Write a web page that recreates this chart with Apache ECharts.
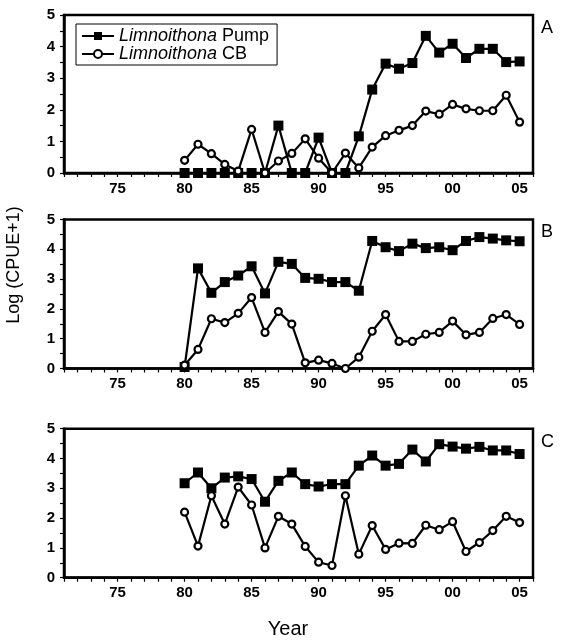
<!DOCTYPE html>
<html>
<head>
<meta charset="utf-8">
<script src="https://cdn.jsdelivr.net/npm/echarts@6/dist/echarts.min.js"></script>
<style>
  html, body { margin: 0; padding: 0; background: #fff; }
  #chart { width: 561px; height: 641px; }
</style>
</head>
<body>
<div id="chart"></div>
<script>
// Survey years shared by all three panels
const years = [1980, 1981, 1982, 1983, 1984, 1985, 1986, 1987, 1988, 1989, 1990, 1991, 1992,
               1993, 1994, 1995, 1996, 1997, 1998, 1999, 2000, 2001, 2002, 2003, 2004, 2005];

// Log (CPUE+1) per panel; "pump" = Limnoithona Pump, "cb" = Limnoithona CB
const pumpA = [0, 0, 0, 0, 0, 0, 0, 1.50, 0, 0, 1.12, 0, 0,
               1.16, 2.64, 3.46, 3.30, 3.48, 4.34, 3.81, 4.09, 3.64, 3.93, 3.93, 3.51, 3.53];
const cbA   = [0.40, 0.91, 0.61, 0.27, 0.06, 1.38, 0, 0.38, 0.62, 1.08, 0.47, 0, 0.63,
               0.16, 0.82, 1.18, 1.35, 1.50, 1.96, 1.86, 2.17, 2.03, 1.97, 1.97, 2.46, 1.61];

const pumpB = [0.05, 3.36, 2.54, 2.90, 3.12, 3.43, 2.52, 3.58, 3.51, 3.04, 3.01, 2.90, 2.90,
               2.61, 4.28, 4.07, 3.94, 4.19, 4.04, 4.07, 3.97, 4.28, 4.41, 4.36, 4.30, 4.27];
const cbB   = [0.11, 0.64, 1.67, 1.54, 1.85, 2.38, 1.21, 1.91, 1.49, 0.19, 0.28, 0.17, 0.0,
               0.38, 1.25, 1.81, 0.91, 0.91, 1.15, 1.21, 1.59, 1.13, 1.21, 1.68, 1.81, 1.48];

const pumpC = [3.17, 3.53, 3.00, 3.36, 3.40, 3.31, 2.55, 3.25, 3.53, 3.14, 3.06, 3.14, 3.14,
               3.76, 4.10, 3.76, 3.82, 4.30, 3.90, 4.48, 4.40, 4.33, 4.39, 4.27, 4.27, 4.15];
const cbC   = [2.20, 1.06, 2.75, 1.80, 3.04, 2.44, 1.00, 2.06, 1.80, 1.05, 0.52, 0.41, 2.75,
               0.79, 1.75, 0.95, 1.16, 1.15, 1.76, 1.61, 1.88, 0.88, 1.18, 1.58, 2.06, 1.85];

const panelLabels = ['A', 'B', 'C'];
const seriesNames = ['Limnoithona Pump', 'Limnoithona CB'];
const yAxisTitle = 'Log (CPUE+1)';
const xAxisTitle = 'Year';

const panels = [
  { pump: pumpA, cb: cbA },
  { pump: pumpB, cb: cbB },
  { pump: pumpC, cb: cbC }
];

// Plot-area placement of each panel
const grids = [
  { left: 64, top: 15, width: 469, height: 158 },
  { left: 64, top: 219.5, width: 469, height: 149 },
  { left: 64, top: 428.7, width: 469, height: 149 }
];

const FONT = 'Liberation Sans, Arial, sans-serif';

function pairs(vals) {
  return years.map((y, i) => [y, vals[i]]);
}

const option = {
  animation: false,
  backgroundColor: '#fff',
  textStyle: { fontFamily: FONT },
  grid: grids.map(g => Object.assign({
    show: true, borderColor: '#000', borderWidth: 2.5, backgroundColor: 'transparent'
  }, g)),
  xAxis: grids.map((g, i) => ({
    type: 'value', gridIndex: i, min: 1971, max: 2006, interval: 1,
    axisLine: { lineStyle: { color: '#000', width: 2.5 } },
    axisTick: { inside: false, length: 4, lineStyle: { color: '#000', width: 1.2 } },
    splitLine: { show: false },
    axisLabel: {
      color: '#000', fontWeight: 'bold', fontSize: 15, fontFamily: FONT, margin: 8,
      formatter: v => (v % 5 === 0 ? String(v % 100).padStart(2, '0') : '')
    }
  })),
  yAxis: grids.map((g, i) => ({
    type: 'value', gridIndex: i, min: 0, max: 5, interval: 0.5,
    axisLine: { show: true, lineStyle: { color: '#000', width: 2.5 } },
    axisTick: { show: true, inside: false, length: 4, lineStyle: { color: '#000', width: 1.2 } },
    splitLine: { show: false },
    axisLabel: {
      color: '#000', fontWeight: 'bold', fontSize: 15, fontFamily: FONT, margin: 9,
      formatter: v => (Math.abs(v - Math.round(v)) < 1e-6 ? String(Math.round(v)) : '')
    }
  })),
  legend: {
    data: seriesNames,
    orient: 'vertical',
    left: 76, top: 24,
    padding: [3, 8, 2, 5],
    itemGap: 0,
    itemWidth: 32, itemHeight: 10,
    borderColor: '#000', borderWidth: 1,
    backgroundColor: '#fff',
    selectedMode: false,
    formatter: name => {
      const parts = name.split(' ');
      return '{i|' + parts[0] + '} {r|' + parts.slice(1).join(' ') + '}';
    },
    textStyle: {
      color: '#000', fontSize: 18, fontFamily: FONT,
      rich: {
        i: { fontStyle: 'italic', fontSize: 18, fontFamily: FONT, color: '#000' },
        r: { fontSize: 18, fontFamily: FONT, color: '#000' }
      }
    }
  },
  series: [],
  graphic: []
};

panels.forEach((p, i) => {
  option.series.push({
    name: seriesNames[0], type: 'line', xAxisIndex: i, yAxisIndex: i,
    data: pairs(p.pump), clip: false, z: 3,
    symbol: 'rect', symbolSize: 10,
    lineStyle: { color: '#000', width: 2.2 },
    itemStyle: { color: '#000', borderColor: '#000', borderWidth: 0 }
  });
  option.series.push({
    name: seriesNames[1], type: 'line', xAxisIndex: i, yAxisIndex: i,
    data: pairs(p.cb), clip: false, z: 4,
    symbol: 'circle', symbolSize: 7,
    lineStyle: { color: '#000', width: 2.2 },
    itemStyle: { color: '#fff', borderColor: '#000', borderWidth: 2.2 }
  });
  option.graphic.push({
    type: 'text', left: 541, top: grids[i].top + 4,
    style: { text: panelLabels[i], fontSize: 18, fontFamily: FONT, fill: '#000' }
  });
});

option.graphic.push({
  type: 'text', x: 14, y: 265, rotation: Math.PI / 2,
  style: { text: yAxisTitle, fontSize: 18, fontFamily: FONT, fill: '#000',
           align: 'center', verticalAlign: 'middle' }
});
option.graphic.push({
  type: 'text', x: 288, y: 629,
  style: { text: xAxisTitle, fontSize: 20, fontFamily: FONT, fill: '#000',
           align: 'center', verticalAlign: 'middle' }
});

const chart = echarts.init(document.getElementById('chart'), null, { renderer: 'canvas' });
chart.setOption(option);
</script>
</body>
</html>
